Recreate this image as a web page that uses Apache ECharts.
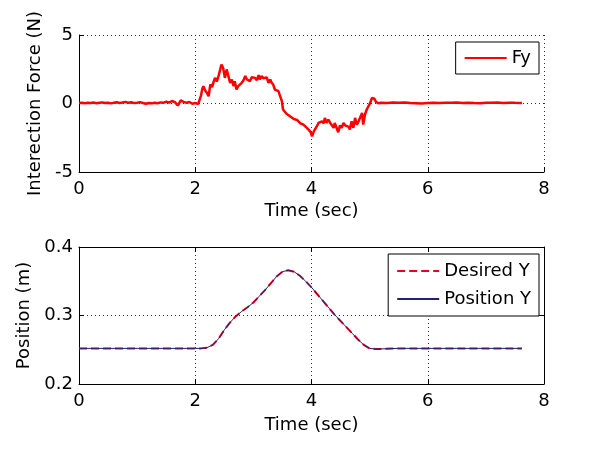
<!DOCTYPE html>
<html>
<head>
<meta charset="utf-8">
<script src="https://cdn.jsdelivr.net/npm/echarts@6/dist/echarts.min.js"></script>
<style>html,body{margin:0;padding:0;background:#fff;}#c{width:600px;height:449px;}</style>
</head>
<body>
<div id="c"></div>
<script>
// ---- Top plot: interaction force Fy (N) vs time (s)
var forceTime = [
0.00,0.05,0.10,0.15,0.20,0.25,0.30,0.35,0.40,0.45,0.50,0.55,0.60,0.65,0.70,0.75,0.80,0.85,0.90,0.95,
1.00,1.05,1.10,1.15,1.20,1.25,1.30,1.35,1.40,1.45,1.50,1.55,1.60,1.65,1.70,1.75,1.80,1.85,1.90,1.95,
2.00,2.05,2.08,2.10,2.12,2.14,2.17,2.20,2.23,2.26,2.29,2.31,2.34,2.37,2.40,2.43,2.45,2.48,2.51,2.54,
2.57,2.60,2.63,2.66,2.68,2.71,2.74,2.77,2.80,2.83,2.86,2.89,2.92,2.94,2.97,3.00,3.03,3.06,3.09,3.11,
3.14,3.17,3.20,3.23,3.26,3.29,3.31,3.34,3.37,3.40,3.43,3.46,3.49,3.51,3.54,3.57,3.60,3.63,3.66,3.69,
3.72,3.75,3.78,3.81,3.84,3.86,3.89,3.92,3.95,3.98,4.01,4.04,4.07,4.10,4.12,4.15,4.18,4.21,4.23,4.26,
4.29,4.32,4.35,4.38,4.40,4.43,4.46,4.49,4.52,4.55,4.58,4.61,4.64,4.66,4.69,4.72,4.75,4.78,4.81,4.84,
4.87,4.89,4.92,4.95,4.98,5.01,5.04,5.06,5.08,5.11,5.15,5.20,5.30,5.40,5.50,5.60,5.70,5.80,5.90,6.00,
6.10,6.20,6.30,6.40,6.50,6.60,6.70,6.80,6.90,7.00,7.10,7.20,7.30,7.40,7.50,7.62
];
var forceFy = [
0.03,0.06,0.02,0.05,0.04,0.07,0.02,0.05,0.08,0.03,0.06,0.01,0.05,0.09,0.04,0.07,0.12,0.05,0.09,0.03,
0.06,0.10,0.04,-0.02,0.03,0.01,0.06,0.02,0.08,0.05,0.14,0.06,0.18,0.10,-0.15,0.22,0.12,0.05,0.11,-0.02,
0.04,-0.05,0.02,0.60,1.05,1.27,0.95,0.78,0.53,1.39,1.20,1.51,1.87,1.60,2.00,2.49,2.85,2.60,1.87,2.49,
2.36,1.51,1.75,1.27,1.63,1.02,1.27,1.20,1.51,1.70,2.00,1.75,1.87,1.63,1.92,1.80,1.87,1.70,2.07,1.75,
2.00,1.85,1.75,1.90,1.51,1.75,1.55,1.39,1.02,1.10,0.90,0.78,0.17,-0.44,-0.56,-0.75,-0.70,-0.93,-0.85,-1.12,
-1.05,-1.20,-1.10,-1.45,-1.35,-1.54,-1.45,-1.78,-1.70,-2.05,-2.39,-2.03,-1.90,-1.60,-1.42,-1.55,-1.30,-1.45,-1.05,-1.42,
-1.17,-1.40,-1.42,-1.78,-1.42,-1.54,-2.10,-1.60,-1.78,-1.42,-1.60,-1.54,-1.70,-1.90,-1.30,-1.78,-1.05,-1.54,-1.30,-1.42,
-0.69,-1.54,-0.80,-0.44,-0.20,0.04,0.41,0.46,0.35,0.12,0.02,0.06,0.04,0.07,0.05,0.08,0.03,0.02,0.00,0.03,
0.05,0.04,0.06,0.05,0.07,0.04,0.05,0.03,0.02,0.06,0.05,0.07,0.04,0.06,0.05,0.04
];

// ---- Bottom plot: position (m) vs time (s)
var posTime = [
0.00,1.00,2.00,2.10,2.20,2.30,2.40,2.50,2.60,2.70,2.80,2.90,3.00,3.10,3.20,3.30,3.40,3.50,3.60,3.70,
3.80,3.90,4.00,4.10,4.20,4.30,4.40,4.50,4.60,4.70,4.80,4.90,5.00,5.10,5.50,6.00,6.50,7.00,7.62
];
var desiredY = [
0.252,0.252,0.252,0.252,0.253,0.257,0.266,0.279,0.290,0.299,0.306,0.312,0.319,0.328,0.337,0.347,0.357,0.364,0.366,0.364,
0.358,0.350,0.341,0.331,0.321,0.311,0.301,0.292,0.283,0.274,0.265,0.257,0.252,0.251,0.252,0.252,0.252,0.252,0.252
];
var positionY = [
0.252,0.252,0.252,0.252,0.253,0.257,0.266,0.279,0.290,0.299,0.306,0.312,0.319,0.328,0.337,0.347,0.357,0.364,0.366,0.364,
0.358,0.350,0.341,0.331,0.321,0.311,0.301,0.292,0.283,0.274,0.265,0.257,0.252,0.251,0.252,0.252,0.252,0.252,0.252
];

var xTicks = [0, 2, 4, 6, 8];
var forceTicks = [-5, 0, 5];
var posTicks = [0.2, 0.3, 0.4];

var FONT = 'DejaVu Sans';
function zip(a, b) { return a.map(function (v, i) { return [v, b[i]]; }); }

var dotted = { show: true, lineStyle: { color: '#333', width: 1, type: [1, 3] } };
var axLine = { show: true, onZero: false, lineStyle: { color: '#000', width: 1 } };
var tick = { show: true, inside: true, length: 5, lineStyle: { color: '#000' } };
var lbl = { color: '#000', fontSize: 18, fontFamily: FONT };
var nameStyle = { color: '#000', fontSize: 18, fontFamily: FONT };
var legendCommon = {
  orient: 'vertical', right: 61, itemWidth: 42, itemHeight: 2, itemGap: 10, align: 'left',
  padding: [8, 8, 8, 8], borderColor: '#000', borderWidth: 1, backgroundColor: '#fff', borderRadius: 0,
  itemStyle: { opacity: 0, borderWidth: 0 },
  textStyle: { color: '#000', fontSize: 18, fontFamily: FONT }
};

var chart = echarts.init(document.getElementById('c'), null, { renderer: 'canvas' });
chart.setOption({
  animation: false,
  backgroundColor: '#fff',
  grid: [
    { left: 79, right: 56, top: 35, height: 137 },
    { left: 79, right: 56, top: 247, height: 137 }
  ],
  xAxis: [
    { type: 'value', gridIndex: 0, min: xTicks[0], max: xTicks[xTicks.length - 1], interval: xTicks[1] - xTicks[0],
      axisLine: axLine, axisTick: tick, splitLine: dotted, axisLabel: Object.assign({ margin: 8 }, lbl),
      name: 'Time (sec)', nameLocation: 'middle', nameGap: 30, nameTextStyle: nameStyle },
    { type: 'value', gridIndex: 1, min: xTicks[0], max: xTicks[xTicks.length - 1], interval: xTicks[1] - xTicks[0],
      axisLine: axLine, axisTick: tick, splitLine: dotted, axisLabel: Object.assign({ margin: 8 }, lbl),
      name: 'Time (sec)', nameLocation: 'middle', nameGap: 32, nameTextStyle: nameStyle },
    { type: 'value', gridIndex: 1, position: 'top', min: xTicks[0], max: xTicks[xTicks.length - 1], interval: xTicks[1] - xTicks[0],
      axisLine: axLine, axisTick: tick, splitLine: { show: false }, axisLabel: { show: false } }
  ],
  yAxis: [
    { type: 'value', gridIndex: 0, min: forceTicks[0], max: forceTicks[forceTicks.length - 1], interval: forceTicks[1] - forceTicks[0],
      axisLine: axLine, axisTick: tick, splitLine: dotted, axisLabel: Object.assign({ margin: 6 }, lbl),
      name: 'Interection Force (N)', nameLocation: 'middle', nameGap: 35, nameTextStyle: nameStyle },
    { type: 'value', gridIndex: 1, min: posTicks[0], max: posTicks[posTicks.length - 1], interval: 0.1,
      axisLine: axLine, axisTick: tick, splitLine: dotted,
      axisLabel: Object.assign({ margin: 6, formatter: function (v) { return v.toFixed(1); } }, lbl),
      name: 'Position (m)', nameLocation: 'middle', nameGap: 43, nameTextStyle: nameStyle },
    { type: 'value', gridIndex: 1, position: 'right', min: posTicks[0], max: posTicks[posTicks.length - 1], interval: 0.1,
      axisLine: axLine, axisTick: tick, splitLine: { show: false }, axisLabel: { show: false } }
  ],
  legend: [
    Object.assign({ data: ['Fy'], top: 42, padding: [7, 8, 7, 8] }, legendCommon, { padding: [7, 8, 7, 8] }),
    Object.assign({ data: ['Desired Y', 'Position Y'], top: 254 }, legendCommon)
  ],
  series: [
    { name: 'Fy', type: 'line', xAxisIndex: 0, yAxisIndex: 0, data: zip(forceTime, forceFy), symbol: 'none',
      lineStyle: { color: '#ff0000', width: 2.5 }, itemStyle: { color: '#ff0000' } },
    { name: 'Desired Y', type: 'line', xAxisIndex: 1, yAxisIndex: 1, data: zip(posTime, desiredY), symbol: 'none',
      lineStyle: { color: '#e8001c', width: 2, type: [8, 4] }, itemStyle: { color: '#e8001c' } },
    { name: 'Position Y', type: 'line', xAxisIndex: 1, yAxisIndex: 1, data: zip(posTime, positionY), symbol: 'none',
      lineStyle: { color: '#22226e', width: 1 }, itemStyle: { color: '#22226e' } }
  ]
});
</script>
</body>
</html>
